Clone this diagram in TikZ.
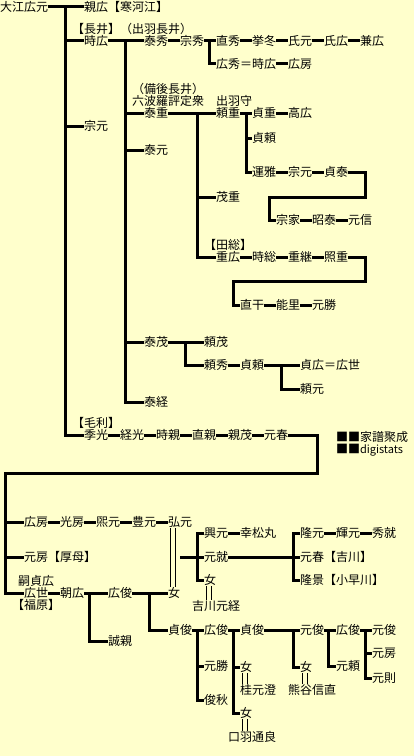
\documentclass[tikz,border=0pt]{standalone}
\usepackage{fontspec}
\setmainfont{Noto Sans CJK JP}
\definecolor{bg}{RGB}{255,255,204}
\begin{document}
\begin{tikzpicture}[x=1bp,y=-1bp,
  nm/.style={anchor=west,inner sep=0pt,outer sep=0pt,font=\fontsize{12bp}{12bp}\selectfont,text height=10.5bp,text depth=1.5bp},
  ln/.style={line width=3bp,line join=miter},
  mar/.style={line width=1bp}]
\fill[bg] (0,0) rectangle (414,756);
\useasboundingbox (0,0) rectangle (414,756);
% ---- upper part
\node[nm] (oe) at (0,7) {大江広元};
\node[nm] (chika) at (84,7) {親広【寒河江】};
\node[nm] (lbnagai) at (72,29) {【長井】};
\node[nm] (lbdewa) at (120,29) {（出羽長井）};
\node[nm] (toki) at (84,41) {時広};
\node[nm] (yasuhide) at (144,41) {泰秀};
\node[nm] (munehide) at (180,41) {宗秀};
\node[nm] (sadahide) at (216,41) {直秀};
\node[nm] (takafuyu) at (252,41) {挙冬};
\node[nm] (ujimoto) at (288,41) {氏元};
\node[nm] (ujihiro) at (324,41) {氏広};
\node[nm] (kanehiro) at (360,41) {兼広};
\node[nm] (hirohide) at (216,64) {広秀＝時広};
\node[nm] (hirofusa) at (288,64) {広房};
\node[nm] (lbbingo) at (132,89) {（備後長井）};
\node[nm] (lbroku) at (132,101) {六波羅評定衆};
\node[nm] (lbdewamori) at (216,101) {出羽守};
\node[nm] (yasushige) at (144,113) {泰重};
\node[nm] (yorishige) at (216,113) {頼重};
\node[nm] (sadashige) at (252,113) {貞重};
\node[nm] (takahiro) at (288,113) {高広};
\node[nm] (mune1) at (84,126) {宗元};
\node[nm] (sadayori) at (252,138) {貞頼};
\node[nm] (yasumoto) at (144,150) {泰元};
\node[nm] (unga) at (252,172) {運雅};
\node[nm] (mune2) at (288,172) {宗元};
\node[nm] (sadayasu) at (324,172) {貞泰};
\node[nm] (shigeshige) at (216,197) {茂重};
\node[nm] (munei) at (276,220) {宗家};
\node[nm] (akiyasu) at (312,220) {昭泰};
\node[nm] (motonobu) at (348,220) {元信};
\node[nm] (lbtabusa) at (204,245) {【田総】};
\node[nm] (shigehiro) at (216,257) {重広};
\node[nm] (tokifusa) at (252,257) {時総};
\node[nm] (shigetsugu) at (288,257) {重継};
\node[nm] (terushige) at (324,257) {照重};
\node[nm] (naokan) at (240,305) {直干};
\node[nm] (yoshisato) at (276,305) {能里};
\node[nm] (motokatsu) at (312,305) {元勝};
\node[nm] (yasushige2) at (144,342) {泰茂};
\node[nm] (yorishige2) at (204,342) {頼茂};
\node[nm] (yorihide) at (204,365) {頼秀};
\node[nm] (sadayori2) at (240,365) {貞頼};
\node[nm] (sadahiro) at (300,365) {貞広＝広世};
\node[nm] (yorimoto) at (300,389) {頼元};
\node[nm] (yasutsune) at (144,402) {泰経};
\node[nm] (lbmori) at (72,423) {【毛利】};
\node[nm] (sue) at (84,435) {季光};
\node[nm] (tsune) at (120,435) {経光};
\node[nm] (tokichika) at (156,435) {時親};
\node[nm] (sadachika) at (192,435) {直親};
\node[nm] (chikashige) at (228,435) {親茂};
\node[nm] (motoharu) at (264,435) {元春};
\node[nm] (leg1) at (336,437) {■■家譜聚成};
\node[nm] (leg2) at (336,449) {■■\fontsize{11bp}{11bp}\selectfont digistats};
% ---- lower part
\node[nm] (hirofusa2) at (24,522) {広房};
\node[nm] (mitsufusa) at (60,522) {光房};
\node[nm] (hiromoto0) at (96,522) {煕元};
\node[nm] (toyomoto) at (132,522) {豊元};
\node[nm] (hiromoto) at (168,522) {弘元};
\node[nm] (motofusa) at (24,557) {元房【厚母】};
\node[nm] (lbtsugu) at (18,581) {嗣貞広};
\node[nm] (hiroyo) at (24,593) {広世};
\node[nm] (lbfuku) at (12,605) {【福原】};
\node[nm] (tomohiro) at (60,593) {朝広};
\node[nm] (hirotoshi) at (108,593) {広俊};
\node[nm] (onna1) at (168,593) {女};
\node[nm] (okimoto) at (204,533) {興元};
\node[nm] (kohmatsu) at (240,533) {幸松丸};
\node[nm] (motonari) at (204,557) {元就};
\node[nm] (onna2) at (204,580) {女};
\node[nm] (kikkawa) at (192,606) {吉川元経};
\node[nm] (takamoto) at (300,533) {隆元};
\node[nm] (terumoto) at (336,533) {輝元};
\node[nm] (hidenari) at (372,533) {秀就};
\node[nm] (motoharu2) at (300,557) {元春【吉川】};
\node[nm] (takakage) at (300,580) {隆景【小早川】};
\node[nm] (sadatoshi) at (168,630) {貞俊};
\node[nm] (seishin) at (108,641) {誠親};
\node[nm] (hirotoshi2) at (204,630) {広俊};
\node[nm] (sadatoshi2) at (240,630) {貞俊};
\node[nm] (mototoshi) at (300,630) {元俊};
\node[nm] (hirotoshi3) at (336,630) {広俊};
\node[nm] (mototoshi2) at (372,630) {元俊};
\node[nm] (motofusa2) at (372,653) {元房};
\node[nm] (motokatsu2) at (204,666) {元勝};
\node[nm] (motoyori) at (336,666) {元頼};
\node[nm] (onna3) at (240,667) {女};
\node[nm] (onna4) at (300,667) {女};
\node[nm] (motonori) at (372,678) {元則};
\node[nm] (katsura) at (240,690) {桂元澄};
\node[nm] (kumagai) at (288,690) {熊谷信直};
\node[nm] (toshiaki) at (204,700) {俊秋};
\node[nm] (onna5) at (240,713) {女};
\node[nm] (kuchiba) at (228,737) {口羽通良};
% ---- junction coordinates
\coordinate (t1) at (65,7);
\coordinate (t2) at (125,41);
\coordinate (t3) at (209,41);
\coordinate (t4) at (197,113);
\coordinate (t5) at (246,113);
\coordinate (b1) at (365,172);
\coordinate (b2) at (269,197);
\coordinate (b3) at (365,257);
\coordinate (b4) at (233,281);
\coordinate (t6) at (185,342);
\coordinate (t7) at (281,365);
\coordinate (b5) at (317,435);
\coordinate (t8) at (5,473);
\coordinate (t9) at (89,593);
\coordinate (t10) at (149,593);
\coordinate (cm) at (180,557);
\coordinate (t11) at (197,580);
\coordinate (t17) at (293,580);
\coordinate (t12) at (197,630);
\coordinate (t13) at (233,630);
\coordinate (t14) at (293,630);
\coordinate (t15) at (328,630);
\coordinate (t16) at (365,630);
% ---- connectors
\draw[ln] (oe.east) -- (chika.west);
\draw[ln] (t1) |- (sue.west);
\draw[ln] (t1 |- toki.west) -- (toki.west);
\draw[ln] (t1 |- mune1.west) -- (mune1.west);
\draw[ln] (toki.east) -- (yasuhide.west);
\draw[ln] (t2) |- (yasutsune.west);
\draw[ln] (t2 |- yasushige.west) -- (yasushige.west);
\draw[ln] (t2 |- yasumoto.west) -- (yasumoto.west);
\draw[ln] (t2 |- yasushige2.west) -- (yasushige2.west);
\draw[ln] (yasuhide.east) -- (munehide.west);
\draw[ln] (munehide.east) -- (sadahide.west);
\draw[ln] (t3) |- (hirohide.west);
\draw[ln] (sadahide.east) -- (takafuyu.west);
\draw[ln] (takafuyu.east) -- (ujimoto.west);
\draw[ln] (ujimoto.east) -- (ujihiro.west);
\draw[ln] (ujihiro.east) -- (kanehiro.west);
\draw[ln] (hirohide.east) -- (hirofusa.west);
\draw[ln] (yasushige.east) -- (yorishige.west);
\draw[ln] (t4) |- (shigehiro.west);
\draw[ln] (t4 |- shigeshige.west) -- (shigeshige.west);
\draw[ln] (yorishige.east) -- (sadashige.west);
\draw[ln] (t5) |- (unga.west);
\draw[ln] (t5 |- sadayori.west) -- (sadayori.west);
\draw[ln] (sadashige.east) -- (takahiro.west);
\draw[ln] (unga.east) -- (mune2.west);
\draw[ln] (mune2.east) -- (sadayasu.west);
\draw[ln] (sadayasu.east) -- (b1) |- (b2) |- (munei.west);
\draw[ln] (munei.east) -- (akiyasu.west);
\draw[ln] (akiyasu.east) -- (motonobu.west);
\draw[ln] (shigehiro.east) -- (tokifusa.west);
\draw[ln] (tokifusa.east) -- (shigetsugu.west);
\draw[ln] (shigetsugu.east) -- (terushige.west);
\draw[ln] (terushige.east) -- (b3) |- (b4) |- (naokan.west);
\draw[ln] (naokan.east) -- (yoshisato.west);
\draw[ln] (yoshisato.east) -- (motokatsu.west);
\draw[ln] (yasushige2.east) -- (yorishige2.west);
\draw[ln] (t6) |- (yorihide.west);
\draw[ln] (yorihide.east) -- (sadayori2.west);
\draw[ln] (sadayori2.east) -- (sadahiro.west);
\draw[ln] (t7) |- (yorimoto.west);
\draw[ln] (sue.east) -- (tsune.west);
\draw[ln] (tsune.east) -- (tokichika.west);
\draw[ln] (tokichika.east) -- (sadachika.west);
\draw[ln] (sadachika.east) -- (chikashige.west);
\draw[ln] (chikashige.east) -- (motoharu.west);
\draw[ln] (motoharu.east) -- (b5) |- (t8) |- (hiroyo.west);
\draw[ln] (t8 |- hirofusa2.west) -- (hirofusa2.west);
\draw[ln] (t8 |- motofusa.west) -- (motofusa.west);
\draw[ln] (hirofusa2.east) -- (mitsufusa.west);
\draw[ln] (mitsufusa.east) -- (hiromoto0.west);
\draw[ln] (hiromoto0.east) -- (toyomoto.west);
\draw[ln] (toyomoto.east) -- (hiromoto.west);
\draw[ln] (hiroyo.east) -- (tomohiro.west);
\draw[ln] (tomohiro.east) -- (hirotoshi.west);
\draw[ln] (t9) |- (seishin.west);
\draw[ln] (hirotoshi.east) -- (onna1.west);
\draw[ln] (t10) |- (sadatoshi.west);
\draw[ln] (cm) -- (motonari.west);
\draw[ln] (okimoto.west) -| (t11) -- (onna2.west);
\draw[ln] (okimoto.east) -- (kohmatsu.west);
\draw[ln] (motonari.east) -- (motoharu2.west);
\draw[ln] (takamoto.west) -| (t17) -- (takakage.west);
\draw[ln] (takamoto.east) -- (terumoto.west);
\draw[ln] (terumoto.east) -- (hidenari.west);
\draw[ln] (sadatoshi.east) -- (hirotoshi2.west);
\draw[ln] (t12) |- (toshiaki.west);
\draw[ln] (t12 |- motokatsu2.west) -- (motokatsu2.west);
\draw[ln] (hirotoshi2.east) -- (sadatoshi2.west);
\draw[ln] (t13) |- (onna5.west);
\draw[ln] (t13 |- onna3.west) -- (onna3.west);
\draw[ln] (sadatoshi2.east) -- (mototoshi.west);
\draw[ln] (t14) |- (onna4.west);
\draw[ln] (mototoshi.east) -- (hirotoshi3.west);
\draw[ln] (t15) |- (motoyori.west);
\draw[ln] (hirotoshi3.east) -- (mototoshi2.west);
\draw[ln] (t16) |- (motonori.west);
\draw[ln] (t16 |- motofusa2.west) -- (motofusa2.west);
% ---- marriage double lines
\foreach \d in {2.5,7.5}{
  \draw[mar] ([xshift=\d]hiromoto.south west) -- ([xshift=\d]onna1.north west);
  \draw[mar] ([xshift=\d]onna2.south west) -- ([xshift=\d]onna2.south west |- kikkawa.north);
  \draw[mar] ([xshift=\d]onna3.south west) -- ([xshift=\d]onna3.south west |- katsura.north);
  \draw[mar] ([xshift=\d]onna4.south west) -- ([xshift=\d]onna4.south west |- kumagai.north);
  \draw[mar] ([xshift=\d]onna5.south west) -- ([xshift=\d]onna5.south west |- kuchiba.north);
}
\end{tikzpicture}
\end{document}
